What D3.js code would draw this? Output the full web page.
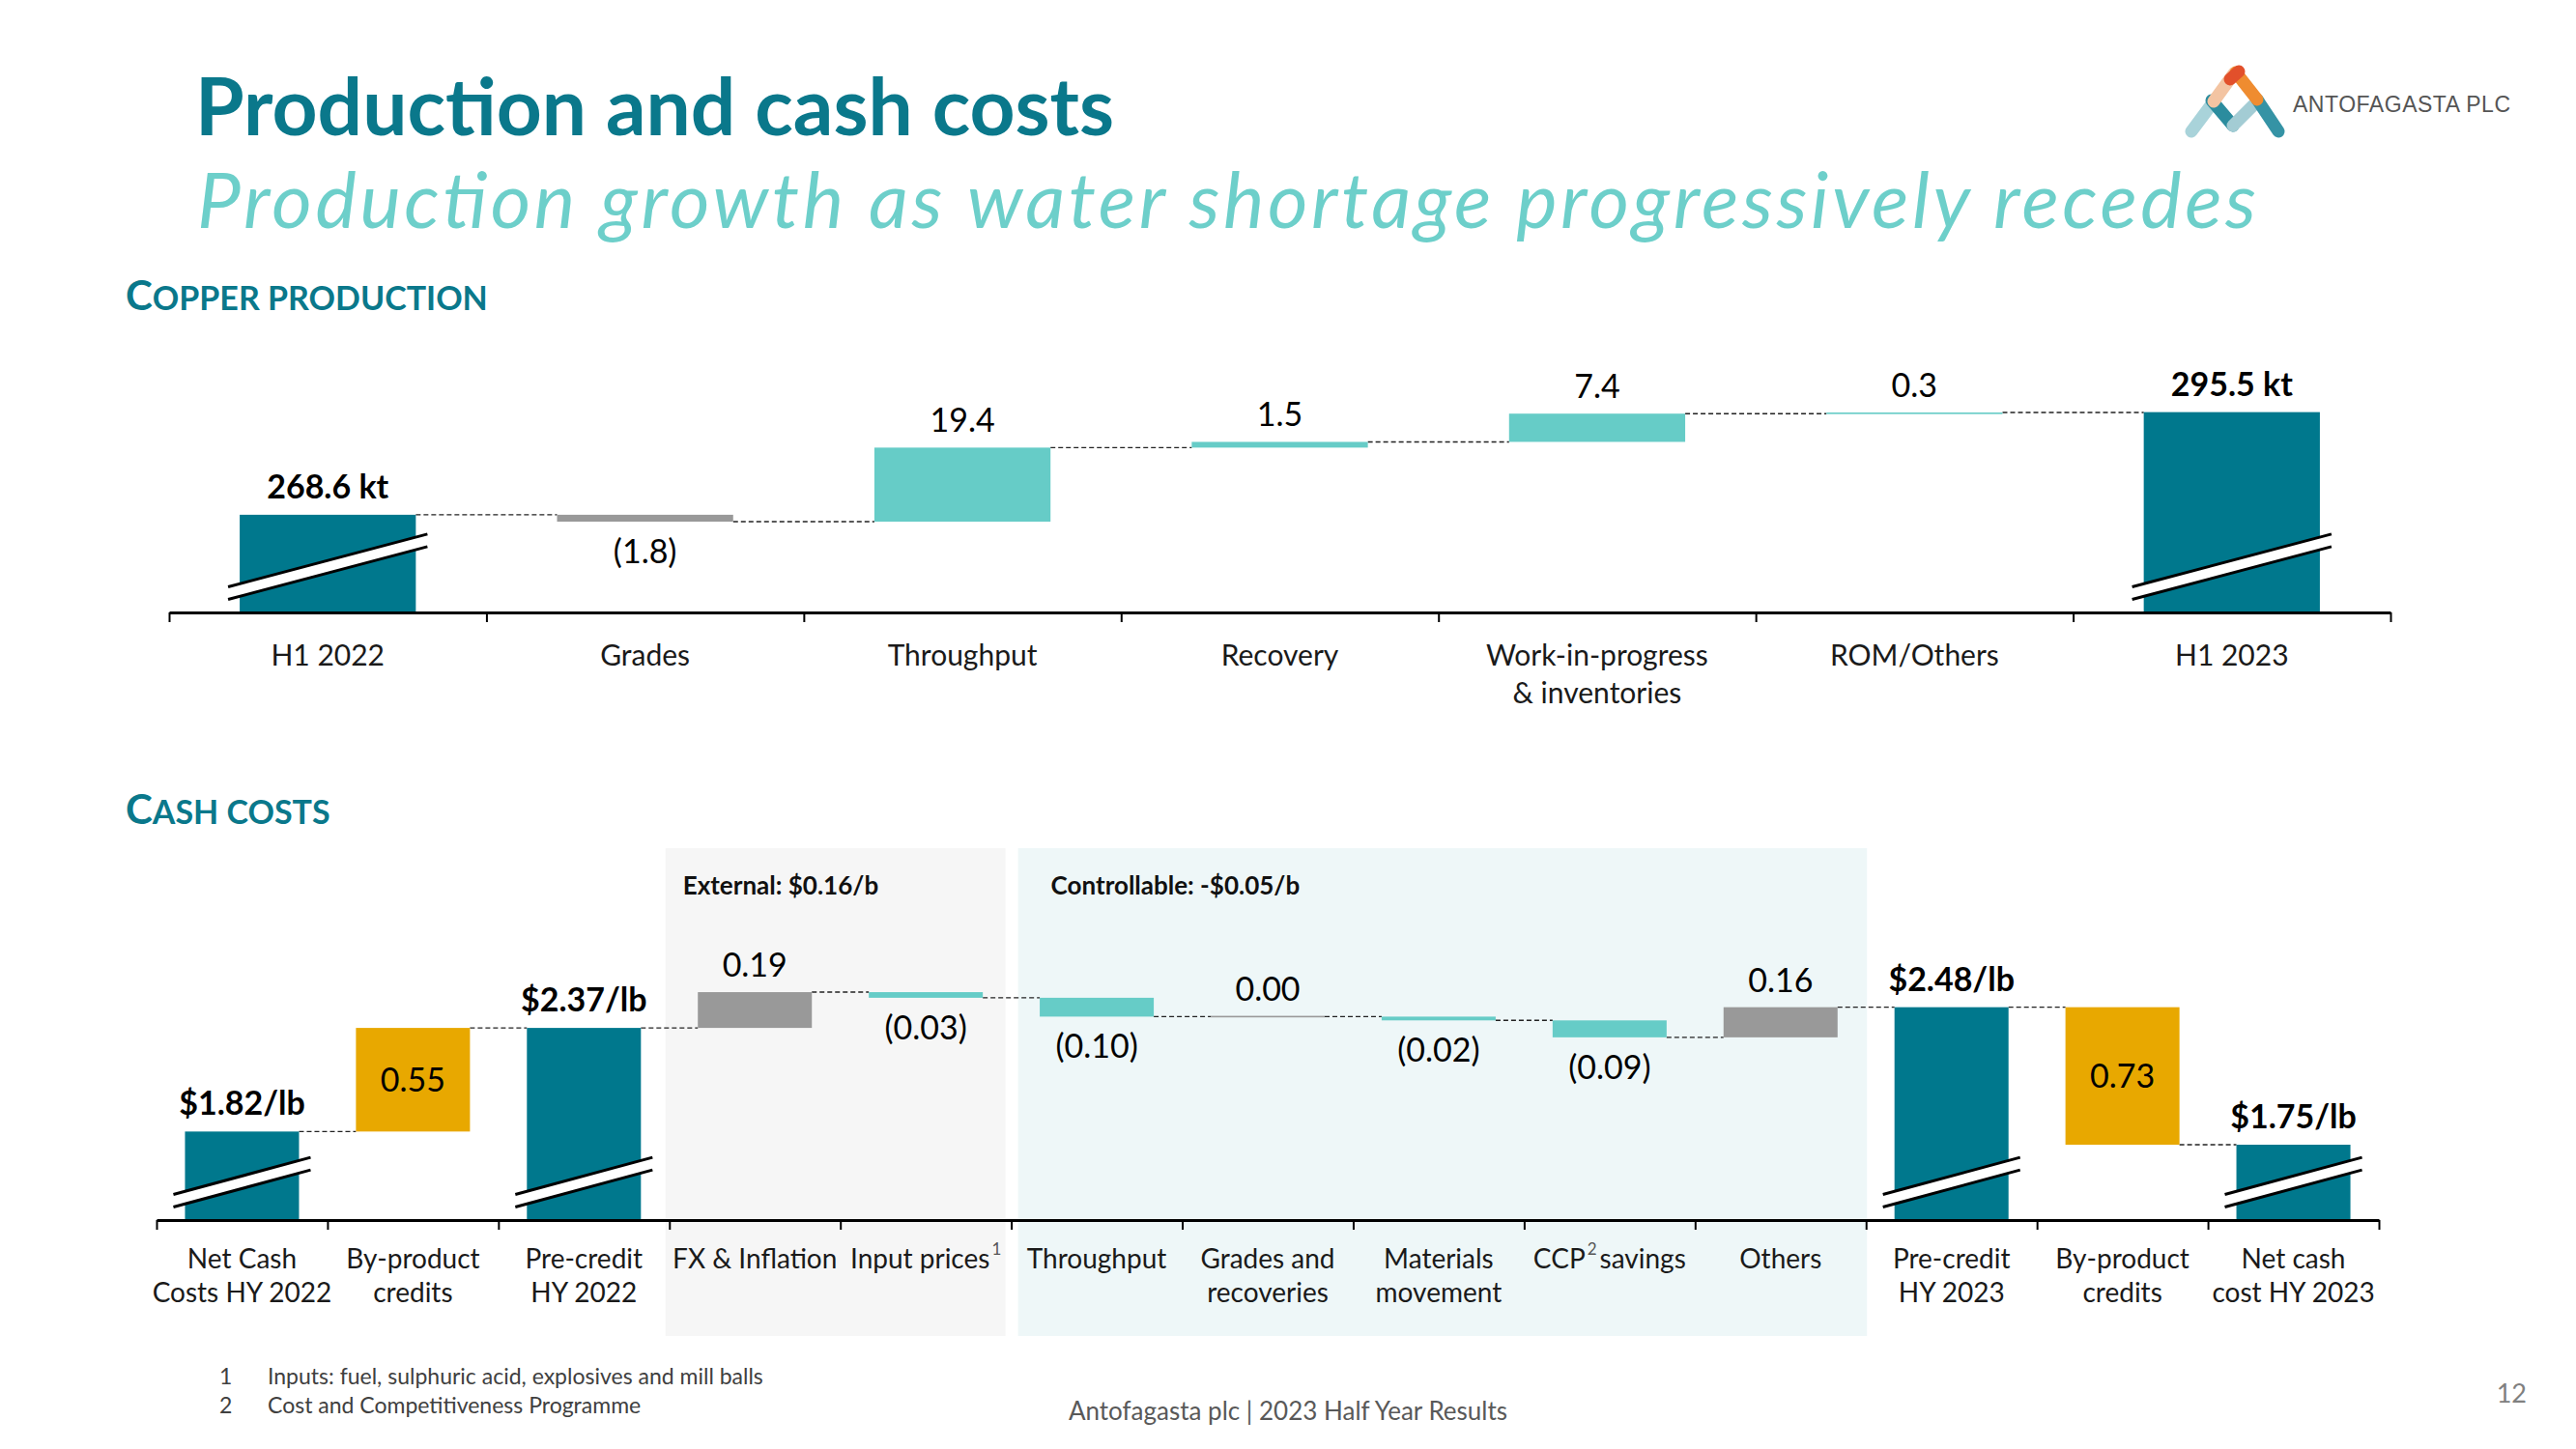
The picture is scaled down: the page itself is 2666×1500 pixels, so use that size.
<!DOCTYPE html>
<html><head><meta charset="utf-8">
<script src="https://cdn.jsdelivr.net/npm/d3@7"></script>
<style>
html,body{margin:0;padding:0;background:#fff;}
svg{display:block;font-family:Lato,"Open Sans",sans-serif;}
</style></head><body>
<svg id="c" width="2666" height="1500"></svg>
<script>
// ---------- data ----------
const prodCategories = ["H1 2022", "Grades", "Throughput", "Recovery", "Work-in-progress\n& inventories", "ROM/Others", "H1 2023"];
const prodValues = [268.6, -1.8, 19.4, 1.5, 7.4, 0.3, 295.5];
const prodTypes = ["total", "delta", "delta", "delta", "delta", "delta", "total"];
const prodLabels = ["268.6 kt", "(1.8)", "19.4", "1.5", "7.4", "0.3", "295.5 kt"];

const costCategories = ["Net Cash\nCosts HY 2022", "By-product\ncredits", "Pre-credit\nHY 2022", "FX & Inflation", "Input prices", "Throughput", "Grades and\nrecoveries", "Materials\nmovement", "CCP savings", "Others", "Pre-credit\nHY 2023", "By-product\ncredits", "Net cash\ncost HY 2023"];
const costValues = [1.82, 0.55, 2.37, 0.19, -0.03, -0.10, 0.00, -0.02, -0.09, 0.16, 2.48, -0.73, 1.75];
const costTypes = ["total", "credit", "total", "delta", "delta", "delta", "delta", "delta", "delta", "delta", "total", "credit", "total"];
const costLabels = ["$1.82/lb", "0.55", "$2.37/lb", "0.19", "(0.03)", "(0.10)", "0.00", "(0.02)", "(0.09)", "0.16", "$2.48/lb", "0.73", "$1.75/lb"];
const costFootnoteMarks = [null, null, null, null, {mark: "1", before: "Input prices", after: ""}, null, null, null, {mark: "2", before: "CCP", after: "savings"}, null, null, null, null];

const costGroups = [
  {label: "External: $0.16/b", from: 3, to: 5, fill: "#F6F6F6"},
  {label: "Controllable: -$0.05/b", from: 5, to: 10, fill: "#EEF7F8"}
];
const footnotes = [["1", "Inputs: fuel, sulphuric acid, explosives and mill balls"], ["2", "Cost and Competitiveness Programme"]];

// ---------- styles ----------
const TEAL = "#00788D", LIGHT = "#66CCC7", GREY = "#999999", GOLD = "#E8A800";
const HEAD = "#0A788B", SUB = "#6DCFCA";

const svg = d3.select("#c");

// Title
svg.append("text").attr("x", 202).attr("y", 140).attr("font-size", 82).attr("font-weight", 700)
  .attr("fill", HEAD).text("Production and cash costs");
svg.append("text").attr("x", 204).attr("y", 236).attr("font-size", 80).attr("font-style", "italic")
  .attr("fill", SUB).attr("textLength", 2131).attr("lengthAdjust", "spacing")
  .text("Production growth as water shortage progressively recedes");

// Section headings (small caps)
function heading(x, y, first, rest) {
  const t = svg.append("text").attr("x", x).attr("y", y).attr("fill", HEAD).attr("font-weight", 700);
  t.append("tspan").attr("font-size", 42).text(first);
  t.append("tspan").attr("font-size", 34).text(rest);
}
heading(130, 321, "C", "OPPER PRODUCTION");
heading(130, 853, "C", "ASH COSTS");

// Logo
const logo = svg.append("g").attr("fill", "none").attr("stroke-linecap", "round").attr("stroke-width", 13);
const logoStrokes = [
  [[2268, 136], [2291, 105], "#A9D3DA"],
  [[2289, 104], [2311, 130], "#2B8C9E"],
  [[2311, 130], [2337, 104], "#A3CCD4"],
  [[2336, 103], [2358, 136], "#3593A5"],
  [[2291, 105], [2312, 76], "#F3C4A2"],
  [[2314, 75], [2336, 103], "#EF8C30"]
];
logoStrokes.forEach(s => logo.append("line").attr("x1", s[0][0]).attr("y1", s[0][1])
  .attr("x2", s[1][0]).attr("y2", s[1][1]).attr("stroke", s[2]));
logo.append("line").attr("x1", 2308).attr("y1", 82).attr("x2", 2317).attr("y2", 74).attr("stroke", "#E2502B");
svg.append("text").attr("x", 2373).attr("y", 116).attr("font-family", "Liberation Sans, Arial, sans-serif")
  .attr("font-size", 23).attr("fill", "#555").attr("textLength", 225).attr("lengthAdjust", "spacing")
  .text("ANTOFAGASTA PLC");

// ---------- waterfall ----------
function waterfall(o) {
  const n = o.cats.length;
  const g = svg.append("g");
  const x = d3.scaleBand().domain(d3.range(n)).range([o.x0, o.x1]).paddingInner(o.pad).paddingOuter(o.pad / 2);
  const tickX = d3.scaleLinear().domain([0, n]).range([o.x0, o.x1]);
  const y = d3.scaleLinear().domain(o.domain).range([o.axisY, o.axisY - (o.domain[1] - o.domain[0]) * o.pxPer]);

  // group panels
  (o.groups || []).forEach(gr => {
    const l = tickX(gr.from) + gr.padL, r = tickX(gr.to) + gr.padR;
    g.append("rect").attr("x", l).attr("y", o.panelTop).attr("width", r - l)
      .attr("height", o.panelBottom - o.panelTop).attr("fill", gr.fill);
    g.append("text").attr("x", l + gr.textOff).attr("y", o.panelTop + 48).attr("font-size", 26)
      .attr("font-weight", 700).attr("fill", "#111").text(gr.label);
  });

  // compute records
  let level = 0;
  const recs = o.vals.map((v, i) => {
    const t = o.types[i];
    let a, b, color;
    if (t === "total") { a = o.domain[0]; b = v; color = TEAL; level = v; }
    else {
      a = level; b = level + v; level = b;
      color = t === "credit" ? GOLD : (v * o.goodSign > 0 ? LIGHT : GREY);
    }
    return {i, v, t, lo: Math.min(a, b), hi: Math.max(a, b), end: level, color};
  });

  // connectors
  recs.slice(0, -1).forEach(r => {
    g.append("line").attr("x1", x(r.i) + x.bandwidth()).attr("x2", x(r.i + 1))
      .attr("y1", y(r.end)).attr("y2", y(r.end))
      .attr("stroke", "#222").attr("stroke-width", 1.4).attr("stroke-dasharray", "5,3");
  });

  // bars
  recs.forEach(r => {
    const top = y(r.hi), bot = y(r.lo);
    const h = Math.max(bot - top, 1.6);
    g.append("rect").attr("x", x(r.i)).attr("y", r.hi === r.lo ? top - 0.8 : top)
      .attr("width", x.bandwidth()).attr("height", h).attr("fill", r.color);
  });

  // breaks on totals
  recs.filter(r => r.t === "total").forEach(r => {
    const xl = x(r.i) - 12, xr = x(r.i) + x.bandwidth() + 12;
    const yl = o.axisY - 20, yr = yl - (xr - xl) * o.breakSlope;
    const hw = 6.5;
    g.append("polygon").attr("points", [[xl, yl - hw], [xr, yr - hw], [xr, yr + hw], [xl, yl + hw]].join(" "))
      .attr("fill", "#fff");
    [-hw, hw].forEach(d => g.append("line").attr("x1", xl).attr("y1", yl + d).attr("x2", xr).attr("y2", yr + d)
      .attr("stroke", "#000").attr("stroke-width", 3));
  });

  // value labels
  recs.forEach(r => {
    const cx = x(r.i) + x.bandwidth() / 2;
    let yy, bold = false;
    if (r.t === "total") { yy = y(r.hi) - 17; bold = true; }
    else if (r.t === "credit") { yy = (y(r.hi) + y(r.lo)) / 2 + 12; }
    else if (r.v >= 0) { yy = y(r.hi) - 16; }
    else { yy = y(r.lo) + 43; }
    g.append("text").attr("x", cx).attr("y", yy).attr("text-anchor", "middle")
      .attr("font-size", 34).attr("font-weight", bold ? 700 : 400).attr("fill", "#000")
      .text(o.labels[r.i]);
  });

  // axis
  const ax = d3.axisBottom(tickX).tickValues(d3.range(n + 1)).tickSize(10).tickSizeOuter(0).tickFormat("");
  const ag = g.append("g").attr("transform", `translate(0,${o.axisY})`).call(ax);
  ag.select(".domain").attr("stroke", "#000").attr("stroke-width", 3);
  ag.selectAll(".tick line").attr("stroke", "#000").attr("stroke-width", 2);

  // category labels
  o.cats.forEach((c, i) => {
    const cx = x(i) + x.bandwidth() / 2;
    const t = g.append("text").attr("x", cx).attr("y", o.catY).attr("text-anchor", "middle")
      .attr("font-size", o.catFont).attr("fill", "#1a1a1a");
    const fm = o.marks && o.marks[i];
    if (fm) {
      t.append("tspan").text(fm.before);
      t.append("tspan").attr("font-size", 17).attr("fill", "#555").attr("dx", 2).attr("dy", -14).text(fm.mark);
      if (fm.after) t.append("tspan").attr("dx", 3).attr("dy", 14).text(fm.after);
    } else {
      c.split("\n").forEach((line, k) => t.append("tspan").attr("x", cx).attr("dy", k ? o.catLH : 0).text(line));
    }
  });
}

waterfall({
  cats: prodCategories, vals: prodValues, types: prodTypes, labels: prodLabels,
  x0: 175, x1: 2474, pad: 0.445, axisY: 634, domain: [243, 300], pxPer: 3.95,
  goodSign: 1, catY: 689, catFont: 30, catLH: 39, breakSlope: 0.265
});

waterfall({
  cats: costCategories, vals: costValues, types: costTypes, labels: costLabels, marks: costFootnoteMarks,
  x0: 162, x1: 2462, pad: 0.333, axisY: 1263, domain: [1.35, 2.6], pxPer: 195,
  goodSign: -1, catY: 1313, catFont: 28, catLH: 35, breakSlope: 0.27,
  groups: costGroups.map((gr, k) => Object.assign({}, gr, k === 0 ? {padL: -4, padR: -6, textOff: 18} : {padL: 7, padR: 1, textOff: 34})),
  panelTop: 878, panelBottom: 1383
});

// footnotes
footnotes.forEach((f, k) => {
  svg.append("text").attr("x", 227).attr("y", 1433 + k * 30).attr("font-size", 23).attr("fill", "#404040").text(f[0]);
  svg.append("text").attr("x", 277).attr("y", 1433 + k * 30).attr("font-size", 23).attr("fill", "#404040").text(f[1]);
});
svg.append("text").attr("x", 1333).attr("y", 1470).attr("text-anchor", "middle").attr("font-size", 26)
  .attr("fill", "#595959").text("Antofagasta plc | 2023 Half Year Results");
svg.append("text").attr("x", 2615).attr("y", 1452).attr("text-anchor", "end").attr("font-size", 27)
  .attr("fill", "#808080").text("12");
</script>
</body></html>
